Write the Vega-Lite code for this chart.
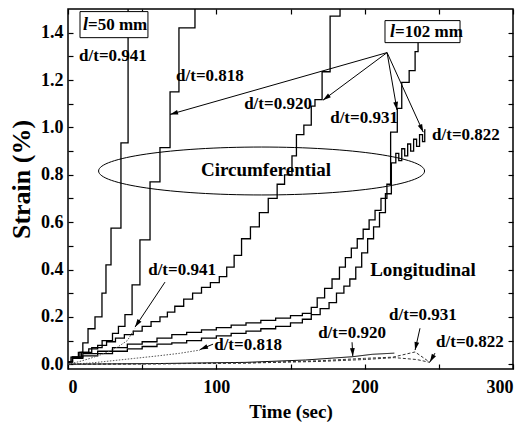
{
  "$schema": "https://vega.github.io/schema/vega-lite/v6.json",
  "width": 445,
  "height": 360,
  "autosize": {"type": "none"},
  "padding": {"left": 68, "top": 9, "right": 16, "bottom": 58},
  "config": {
    "font": "Liberation Serif",
    "view": {"stroke": "black", "strokeWidth": 1.5},
    "axis": {
      "domain": false,
      "grid": false,
      "tickColor": "black",
      "tickWidth": 1.2,
      "tickSize": -5,
      "labelFont": "Liberation Serif",
      "labelFontWeight": "bold",
      "labelFontSize": 18,
      "labelColor": "black",
      "titleFont": "Liberation Serif",
      "titleFontWeight": "bold",
      "titleColor": "black"
    }
  },
  "datasets": {
    "circ": [
      {"series": "l50_0.941", "t": 0, "v": 0.01}, {"series": "l50_0.941", "t": 2, "v": 0.03},
      {"series": "l50_0.941", "t": 7, "v": 0.05}, {"series": "l50_0.941", "t": 10, "v": 0.09},
      {"series": "l50_0.941", "t": 13.5, "v": 0.15}, {"series": "l50_0.941", "t": 18.2, "v": 0.2},
      {"series": "l50_0.941", "t": 22.9, "v": 0.3}, {"series": "l50_0.941", "t": 25.6, "v": 0.42},
      {"series": "l50_0.941", "t": 29, "v": 0.575}, {"series": "l50_0.941", "t": 35.7, "v": 0.935},
      {"series": "l50_0.941", "t": 40.5, "v": 1.6}, {"series": "l50_0.941", "t": 42, "v": 1.6},

      {"series": "l102_0.818", "t": 0, "v": 0.01}, {"series": "l102_0.818", "t": 3, "v": 0.03},
      {"series": "l102_0.818", "t": 9, "v": 0.05}, {"series": "l102_0.818", "t": 16, "v": 0.07},
      {"series": "l102_0.818", "t": 23, "v": 0.1}, {"series": "l102_0.818", "t": 30, "v": 0.13},
      {"series": "l102_0.818", "t": 34, "v": 0.16}, {"series": "l102_0.818", "t": 38.4, "v": 0.21},
      {"series": "l102_0.818", "t": 43.2, "v": 0.335}, {"series": "l102_0.818", "t": 48.5, "v": 0.525},
      {"series": "l102_0.818", "t": 55.3, "v": 0.77}, {"series": "l102_0.818", "t": 62, "v": 0.915},
      {"series": "l102_0.818", "t": 68.8, "v": 1.15}, {"series": "l102_0.818", "t": 74.8, "v": 1.42},
      {"series": "l102_0.818", "t": 85.6, "v": 1.6}, {"series": "l102_0.818", "t": 88, "v": 1.6},

      {"series": "l102_0.920", "t": 0, "v": 0.01}, {"series": "l102_0.920", "t": 3, "v": 0.03},
      {"series": "l102_0.920", "t": 8, "v": 0.05}, {"series": "l102_0.920", "t": 14, "v": 0.065},
      {"series": "l102_0.920", "t": 20, "v": 0.08}, {"series": "l102_0.920", "t": 26, "v": 0.095},
      {"series": "l102_0.920", "t": 32, "v": 0.11}, {"series": "l102_0.920", "t": 38, "v": 0.125},
      {"series": "l102_0.920", "t": 44, "v": 0.14}, {"series": "l102_0.920", "t": 50, "v": 0.16},
      {"series": "l102_0.920", "t": 56, "v": 0.18}, {"series": "l102_0.920", "t": 62, "v": 0.2},
      {"series": "l102_0.920", "t": 67, "v": 0.22}, {"series": "l102_0.920", "t": 72, "v": 0.245},
      {"series": "l102_0.920", "t": 78, "v": 0.275}, {"series": "l102_0.920", "t": 84, "v": 0.3},
      {"series": "l102_0.920", "t": 90, "v": 0.325}, {"series": "l102_0.920", "t": 96, "v": 0.345},
      {"series": "l102_0.920", "t": 102, "v": 0.37}, {"series": "l102_0.920", "t": 107, "v": 0.41},
      {"series": "l102_0.920", "t": 112, "v": 0.46}, {"series": "l102_0.920", "t": 117, "v": 0.53},
      {"series": "l102_0.920", "t": 123, "v": 0.58}, {"series": "l102_0.920", "t": 129, "v": 0.64},
      {"series": "l102_0.920", "t": 135, "v": 0.7}, {"series": "l102_0.920", "t": 141, "v": 0.76},
      {"series": "l102_0.920", "t": 146, "v": 0.8}, {"series": "l102_0.920", "t": 151, "v": 0.88},
      {"series": "l102_0.920", "t": 154, "v": 0.97}, {"series": "l102_0.920", "t": 159, "v": 1.01},
      {"series": "l102_0.920", "t": 164, "v": 1.09}, {"series": "l102_0.920", "t": 166.5, "v": 1.117},
      {"series": "l102_0.920", "t": 171.3, "v": 1.235}, {"series": "l102_0.920", "t": 176.7, "v": 1.47},
      {"series": "l102_0.920", "t": 183.4, "v": 1.6}, {"series": "l102_0.920", "t": 185, "v": 1.6},

      {"series": "l102_0.931", "t": 0, "v": 0.01}, {"series": "l102_0.931", "t": 3, "v": 0.03},
      {"series": "l102_0.931", "t": 10, "v": 0.045}, {"series": "l102_0.931", "t": 20, "v": 0.055},
      {"series": "l102_0.931", "t": 30, "v": 0.07}, {"series": "l102_0.931", "t": 40, "v": 0.085},
      {"series": "l102_0.931", "t": 50, "v": 0.095}, {"series": "l102_0.931", "t": 60, "v": 0.11},
      {"series": "l102_0.931", "t": 70, "v": 0.125}, {"series": "l102_0.931", "t": 80, "v": 0.135},
      {"series": "l102_0.931", "t": 90, "v": 0.145}, {"series": "l102_0.931", "t": 100, "v": 0.155},
      {"series": "l102_0.931", "t": 110, "v": 0.165}, {"series": "l102_0.931", "t": 120, "v": 0.175},
      {"series": "l102_0.931", "t": 130, "v": 0.185}, {"series": "l102_0.931", "t": 140, "v": 0.195},
      {"series": "l102_0.931", "t": 150, "v": 0.205}, {"series": "l102_0.931", "t": 158, "v": 0.215},
      {"series": "l102_0.931", "t": 164, "v": 0.24}, {"series": "l102_0.931", "t": 168, "v": 0.28},
      {"series": "l102_0.931", "t": 173, "v": 0.32}, {"series": "l102_0.931", "t": 178, "v": 0.36},
      {"series": "l102_0.931", "t": 183, "v": 0.41}, {"series": "l102_0.931", "t": 187, "v": 0.45},
      {"series": "l102_0.931", "t": 191, "v": 0.49}, {"series": "l102_0.931", "t": 195, "v": 0.53},
      {"series": "l102_0.931", "t": 199, "v": 0.57}, {"series": "l102_0.931", "t": 203, "v": 0.61},
      {"series": "l102_0.931", "t": 207, "v": 0.65}, {"series": "l102_0.931", "t": 211, "v": 0.7},
      {"series": "l102_0.931", "t": 215, "v": 0.76}, {"series": "l102_0.931", "t": 217.5, "v": 0.98},
      {"series": "l102_0.931", "t": 222, "v": 1.08}, {"series": "l102_0.931", "t": 225, "v": 1.19},
      {"series": "l102_0.931", "t": 230, "v": 1.24}, {"series": "l102_0.931", "t": 234, "v": 1.32},
      {"series": "l102_0.931", "t": 236, "v": 1.36}, {"series": "l102_0.931", "t": 237, "v": 1.36},

      {"series": "l102_0.822", "t": 0, "v": 0.01}, {"series": "l102_0.822", "t": 3, "v": 0.025},
      {"series": "l102_0.822", "t": 10, "v": 0.035}, {"series": "l102_0.822", "t": 20, "v": 0.045},
      {"series": "l102_0.822", "t": 30, "v": 0.055}, {"series": "l102_0.822", "t": 40, "v": 0.065},
      {"series": "l102_0.822", "t": 50, "v": 0.075}, {"series": "l102_0.822", "t": 60, "v": 0.085},
      {"series": "l102_0.822", "t": 70, "v": 0.09}, {"series": "l102_0.822", "t": 80, "v": 0.1},
      {"series": "l102_0.822", "t": 90, "v": 0.11}, {"series": "l102_0.822", "t": 100, "v": 0.12},
      {"series": "l102_0.822", "t": 110, "v": 0.13}, {"series": "l102_0.822", "t": 120, "v": 0.14},
      {"series": "l102_0.822", "t": 130, "v": 0.15}, {"series": "l102_0.822", "t": 140, "v": 0.16},
      {"series": "l102_0.822", "t": 150, "v": 0.175}, {"series": "l102_0.822", "t": 158, "v": 0.19},
      {"series": "l102_0.822", "t": 164, "v": 0.21}, {"series": "l102_0.822", "t": 170, "v": 0.235},
      {"series": "l102_0.822", "t": 176, "v": 0.26}, {"series": "l102_0.822", "t": 181, "v": 0.3},
      {"series": "l102_0.822", "t": 186, "v": 0.33}, {"series": "l102_0.822", "t": 190, "v": 0.36},
      {"series": "l102_0.822", "t": 194, "v": 0.41}, {"series": "l102_0.822", "t": 198, "v": 0.47},
      {"series": "l102_0.822", "t": 202, "v": 0.53}, {"series": "l102_0.822", "t": 206, "v": 0.58},
      {"series": "l102_0.822", "t": 210, "v": 0.64}, {"series": "l102_0.822", "t": 214, "v": 0.72},
      {"series": "l102_0.822", "t": 218, "v": 0.85}, {"series": "l102_0.822", "t": 221, "v": 0.89},
      {"series": "l102_0.822", "t": 223, "v": 0.86}, {"series": "l102_0.822", "t": 225, "v": 0.91},
      {"series": "l102_0.822", "t": 227, "v": 0.88}, {"series": "l102_0.822", "t": 229, "v": 0.93},
      {"series": "l102_0.822", "t": 231, "v": 0.9}, {"series": "l102_0.822", "t": 233, "v": 0.95},
      {"series": "l102_0.822", "t": 235, "v": 0.92}, {"series": "l102_0.822", "t": 237, "v": 0.97},
      {"series": "l102_0.822", "t": 239, "v": 0.94}, {"series": "l102_0.822", "t": 240.5, "v": 0.99},
      {"series": "l102_0.822", "t": 241, "v": 0.99}
    ],
    "longi": [
      {"series": "l50_0.941", "t": 0, "v": 0.0}, {"series": "l50_0.941", "t": 8, "v": 0.012},
      {"series": "l50_0.941", "t": 15, "v": 0.025}, {"series": "l50_0.941", "t": 22, "v": 0.04},
      {"series": "l50_0.941", "t": 28, "v": 0.055}, {"series": "l50_0.941", "t": 34, "v": 0.075},
      {"series": "l50_0.941", "t": 40, "v": 0.1}, {"series": "l50_0.941", "t": 45, "v": 0.15},

      {"series": "l102_0.818", "t": 0, "v": 0.0}, {"series": "l102_0.818", "t": 15, "v": 0.005},
      {"series": "l102_0.818", "t": 30, "v": 0.015}, {"series": "l102_0.818", "t": 45, "v": 0.025},
      {"series": "l102_0.818", "t": 60, "v": 0.035}, {"series": "l102_0.818", "t": 75, "v": 0.046},
      {"series": "l102_0.818", "t": 89, "v": 0.06},

      {"series": "l102_0.920", "t": 0, "v": 0.0}, {"series": "l102_0.920", "t": 60, "v": 0.003},
      {"series": "l102_0.920", "t": 120, "v": 0.008}, {"series": "l102_0.920", "t": 160, "v": 0.018},
      {"series": "l102_0.920", "t": 192, "v": 0.032}, {"series": "l102_0.920", "t": 205, "v": 0.042},
      {"series": "l102_0.920", "t": 220, "v": 0.047},

      {"series": "l102_0.931", "t": 0, "v": 0.0}, {"series": "l102_0.931", "t": 60, "v": 0.002},
      {"series": "l102_0.931", "t": 120, "v": 0.006}, {"series": "l102_0.931", "t": 170, "v": 0.015},
      {"series": "l102_0.931", "t": 200, "v": 0.025}, {"series": "l102_0.931", "t": 219, "v": 0.03},
      {"series": "l102_0.931", "t": 234, "v": 0.052}, {"series": "l102_0.931", "t": 244, "v": 0.008},

      {"series": "l102_0.822", "t": 0, "v": 0.0}, {"series": "l102_0.822", "t": 60, "v": 0.002},
      {"series": "l102_0.822", "t": 120, "v": 0.005}, {"series": "l102_0.822", "t": 170, "v": 0.012},
      {"series": "l102_0.822", "t": 200, "v": 0.02}, {"series": "l102_0.822", "t": 220, "v": 0.028},
      {"series": "l102_0.822", "t": 235, "v": 0.02}, {"series": "l102_0.822", "t": 244, "v": 0.008}
    ],
    "arrows": [
      {"t1": 215.1, "v1": 1.316, "t2": 68.8, "v2": 1.055},
      {"t1": 215.1, "v1": 1.316, "t2": 171.9, "v2": 1.115},
      {"t1": 215.1, "v1": 1.316, "t2": 221.8, "v2": 1.074},
      {"t1": 215.1, "v1": 1.316, "t2": 239.5, "v2": 0.98},
      {"t1": 65.4, "v1": 0.347, "t2": 45.2, "v2": 0.157},
      {"t1": 97.8, "v1": 0.085, "t2": 89, "v2": 0.062},
      {"t1": 191.5, "v1": 0.093, "t2": 192, "v2": 0.034},
      {"t1": 237.3, "v1": 0.152, "t2": 234, "v2": 0.06},
      {"t1": 247.4, "v1": 0.047, "t2": 244, "v2": 0.01}
    ],
    "boxes": [
      {"t0": 8.1, "t1": 53.9, "v0": 1.379, "v1": 1.489, "anchor": 13.5, "va": 1.432, "lead": "l", "rest": "=50 mm"},
      {"t0": 213.7, "t1": 264.3, "v0": 1.358, "v1": 1.451, "anchor": 220.5, "va": 1.403, "lead": "l", "rest": "=102 mm"}
    ],
    "cases": [
      {"t": 30.3, "v": 1.3, "label": "d/t=0.941"},
      {"t": 95.7, "v": 1.218, "label": "d/t=0.818"},
      {"t": 141.6, "v": 1.1, "label": "d/t=0.920"},
      {"t": 199.6, "v": 1.04, "label": "d/t=0.931"},
      {"t": 268.3, "v": 0.969, "label": "d/t=0.822"},
      {"t": 76.9, "v": 0.398, "label": "d/t=0.941"},
      {"t": 121.4, "v": 0.08, "label": "d/t=0.818"},
      {"t": 191.5, "v": 0.131, "label": "d/t=0.920"},
      {"t": 239.3, "v": 0.207, "label": "d/t=0.931"},
      {"t": 271, "v": 0.093, "label": "d/t=0.822"}
    ],
    "regions": [
      {"t": 133.5, "v": 0.82, "label": "Circumferential"},
      {"t": 239.3, "v": 0.398, "label": "Longitudinal"}
    ],
    "ring": [
      {"t": 130.5, "v": 0.816}
    ]
  },
  "layer": [
    {
      "data": {"name": "circ"},
      "mark": {"type": "line", "interpolate": "step-after", "clip": true, "color": "black", "strokeWidth": 1.3},
      "encoding": {
        "x": {
          "field": "t", "type": "quantitative",
          "scale": {"domain": [0, 300], "nice": false},
          "axis": {
            "orient": "bottom",
            "values": [0, 50, 100, 150, 200, 250, 300],
            "labelExpr": "datum.value % 100 === 0 ? datum.label : ''",
            "labelPadding": 14,
            "title": "Time (sec)",
            "titleFontSize": 19,
            "titlePadding": 6
          }
        },
        "y": {
          "field": "v", "type": "quantitative",
          "scale": {"domain": [-0.02, 1.5], "nice": false, "zero": false},
          "axis": {
            "orient": "left",
            "values": [0, 0.1, 0.2, 0.3, 0.4, 0.5, 0.6, 0.7, 0.8, 0.9, 1.0, 1.1, 1.2, 1.3, 1.4],
            "labelExpr": "round(datum.value * 10) % 2 === 0 ? format(datum.value, '.1f') : ''",
            "labelPadding": 10,
            "title": "Strain (%)",
            "titleFontSize": 26,
            "titlePadding": 6,
            "titleY": 170
          }
        },
        "detail": {"field": "series"}
      }
    },
    {
      "data": {"name": "longi"},
      "mark": {"type": "line", "clip": true},
      "encoding": {
        "x": {"field": "t", "type": "quantitative",
          "axis": {"orient": "top", "values": [0, 50, 100, 150, 200, 250, 300], "labels": false, "title": null}},
        "y": {"field": "v", "type": "quantitative",
          "axis": {"orient": "right", "values": [0, 0.1, 0.2, 0.3, 0.4, 0.5, 0.6, 0.7, 0.8, 0.9, 1.0, 1.1, 1.2, 1.3, 1.4], "labels": false, "title": null}},
        "color": {"field": "series", "type": "nominal", "legend": null,
          "scale": {"domain": ["l50_0.941", "l102_0.818", "l102_0.920", "l102_0.931", "l102_0.822"],
                    "range": ["#555555", "#555555", "black", "#333333", "#333333"]}},
        "strokeDash": {"field": "series", "type": "nominal", "legend": null,
          "scale": {"domain": ["l50_0.941", "l102_0.818", "l102_0.920", "l102_0.931", "l102_0.822"],
                    "range": [[1.5, 1.5], [1.5, 1.5], [1, 0], [3, 2], [3, 2]]}},
        "strokeWidth": {"field": "series", "type": "nominal", "legend": null,
          "scale": {"domain": ["l50_0.941", "l102_0.818", "l102_0.920", "l102_0.931", "l102_0.822"],
                    "range": [1, 1, 2, 1.1, 1.1]}}
      }
    },
    {
      "data": {"name": "ring"},
      "mark": {"type": "point", "shape": "M-1,0A1,0.147,0,1,1,1,0A1,0.147,0,1,1,-1,0Z", "size": 106276, "filled": false, "stroke": "black", "strokeWidth": 1, "opacity": 1},
      "encoding": {
        "x": {"field": "t", "type": "quantitative", "axis": null},
        "y": {"field": "v", "type": "quantitative", "axis": null}
      }
    },
    {
      "data": {"name": "arrows"},
      "mark": {"type": "rule", "color": "black", "strokeWidth": 1},
      "encoding": {
        "x": {"field": "t1", "type": "quantitative", "axis": null},
        "y": {"field": "v1", "type": "quantitative", "axis": null},
        "x2": {"field": "t2"},
        "y2": {"field": "v2"}
      }
    },
    {
      "data": {"name": "arrows"},
      "transform": [
        {"calculate": "atan2(-(datum.v2 - datum.v1) * 236.84, (datum.t2 - datum.t1) * 1.4833) * 180 / PI", "as": "heading"}
      ],
      "mark": {"type": "point", "shape": "M0,0L-2,-0.6L-2,0.6Z", "size": 64, "filled": true, "color": "black", "opacity": 1},
      "encoding": {
        "x": {"field": "t2", "type": "quantitative", "axis": null},
        "y": {"field": "v2", "type": "quantitative", "axis": null},
        "angle": {"field": "heading", "type": "quantitative", "scale": null}
      }
    },
    {
      "data": {"name": "boxes"},
      "mark": {"type": "rect", "fill": "white", "stroke": "black", "strokeWidth": 1},
      "encoding": {
        "x": {"field": "t0", "type": "quantitative", "axis": null},
        "x2": {"field": "t1"},
        "y": {"field": "v0", "type": "quantitative", "axis": null},
        "y2": {"field": "v1"}
      }
    },
    {
      "data": {"name": "boxes"},
      "mark": {"type": "text", "align": "right", "baseline": "middle", "font": "Liberation Serif", "fontStyle": "italic", "fontWeight": "bold", "fontSize": 18, "color": "black"},
      "encoding": {
        "x": {"field": "anchor", "type": "quantitative", "axis": null},
        "y": {"field": "va", "type": "quantitative", "axis": null},
        "text": {"field": "lead"}
      }
    },
    {
      "data": {"name": "boxes"},
      "mark": {"type": "text", "align": "left", "baseline": "middle", "font": "Liberation Serif", "fontWeight": "bold", "fontSize": 17, "color": "black"},
      "encoding": {
        "x": {"field": "anchor", "type": "quantitative", "axis": null},
        "y": {"field": "va", "type": "quantitative", "axis": null},
        "text": {"field": "rest"}
      }
    },
    {
      "data": {"name": "cases"},
      "mark": {"type": "text", "align": "center", "baseline": "middle", "font": "Liberation Serif", "fontWeight": "bold", "fontSize": 17, "color": "black"},
      "encoding": {
        "x": {"field": "t", "type": "quantitative", "axis": null},
        "y": {"field": "v", "type": "quantitative", "axis": null},
        "text": {"field": "label"}
      }
    },
    {
      "data": {"name": "regions"},
      "mark": {"type": "text", "align": "center", "baseline": "middle", "font": "Liberation Serif", "fontWeight": "bold", "fontSize": 19, "color": "black"},
      "encoding": {
        "x": {"field": "t", "type": "quantitative", "axis": null},
        "y": {"field": "v", "type": "quantitative", "axis": null},
        "text": {"field": "label"}
      }
    }
  ],
  "resolve": {"axis": {"x": "independent", "y": "independent"}}
}
